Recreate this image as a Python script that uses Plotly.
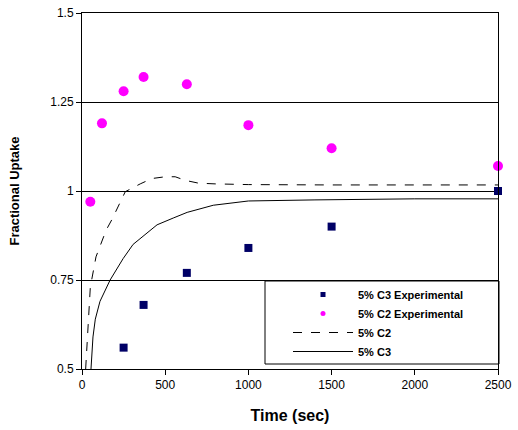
import plotly.graph_objects as go

# Experimental data
c3_exp_t = [250, 370, 630, 1000, 1500, 2500]
c3_exp_y = [0.56, 0.68, 0.77, 0.84, 0.90, 1.00]
c2_exp_t = [50, 120, 250, 370, 630, 1000, 1500, 2500]
c2_exp_y = [0.97, 1.19, 1.28, 1.32, 1.30, 1.185, 1.12, 1.07]

# Model curves
c2_mod_t = [22, 35, 50, 84, 145, 180, 220, 260, 350, 420, 500, 560, 620, 700, 800, 1000, 1500, 2000, 2500]
c2_mod_y = [0.50, 0.62, 0.73, 0.815, 0.89, 0.92, 0.96, 0.998, 1.02, 1.035, 1.04, 1.04, 1.03, 1.022, 1.02, 1.018, 1.017, 1.017, 1.017]
c3_mod_t = [54, 66, 80, 108, 169, 247, 307, 451, 548, 632, 789, 1000, 1400, 2000, 2500]
c3_mod_y = [0.50, 0.59, 0.64, 0.69, 0.75, 0.81, 0.85, 0.905, 0.924, 0.94, 0.96, 0.972, 0.975, 0.978, 0.978]

y_ticks = [0.5, 0.75, 1.0, 1.25, 1.5]
y_tick_labels = ["0.5", "0.75", "1", "1.25", "1.5"]
x_ticks = [0, 500, 1000, 1500, 2000, 2500]

NAVY = "#000066"
MAGENTA = "#FF00FF"

fig = go.Figure()
# data traces (legend handled by small-marker legend entries below)
fig.add_trace(go.Scatter(x=c3_exp_t, y=c3_exp_y, mode="markers", showlegend=False,
                         marker=dict(symbol="square", size=8, color=NAVY), cliponaxis=False))
fig.add_trace(go.Scatter(x=c2_exp_t, y=c2_exp_y, mode="markers", showlegend=False,
                         marker=dict(symbol="circle", size=10, color=MAGENTA), cliponaxis=False))
fig.add_trace(go.Scatter(x=c2_mod_t, y=c2_mod_y, mode="lines", showlegend=False,
                         line=dict(color="black", width=1, dash="dash")))
fig.add_trace(go.Scatter(x=c3_mod_t, y=c3_mod_y, mode="lines", showlegend=False,
                         line=dict(color="black", width=1)))

# legend entries
fig.add_trace(go.Scatter(x=[None], y=[None], mode="markers", name="5% C3 Experimental",
                         marker=dict(symbol="square", size=5, color=NAVY)))
fig.add_trace(go.Scatter(x=[None], y=[None], mode="markers", name="5% C2 Experimental",
                         marker=dict(symbol="circle", size=5, color=MAGENTA)))
fig.add_trace(go.Scatter(x=[None], y=[None], mode="lines", name="5% C2",
                         line=dict(color="black", width=1, dash="dash")))
fig.add_trace(go.Scatter(x=[None], y=[None], mode="lines", name="5% C3",
                         line=dict(color="black", width=1)))

W, H = 518, 430
L, R, T, B = 82, 498, 13, 369   # plot area in page pixels
def px_x(p):
    return (p - L) / (R - L)
def px_y(p):
    return (B - p) / (B - T)

fig.add_shape(type="rect", xref="paper", yref="paper",
              x0=px_x(265), x1=px_x(499), y0=px_y(364), y1=px_y(281),
              fillcolor="white", line=dict(color="black", width=1), layer="between")

fig.update_layout(
    template="none",
    width=W, height=H,
    margin=dict(l=L, r=W - R, t=T, b=H - B, pad=0),
    paper_bgcolor="white", plot_bgcolor="white",
    font=dict(family="Arial, Liberation Sans, sans-serif", color="black", size=12),
    showlegend=True,
    legend=dict(x=px_x(288), y=px_y(280), xanchor="left", yanchor="top",
                bgcolor="rgba(0,0,0,0)", borderwidth=0, itemwidth=60,
                font=dict(size=11, family="Arial, Liberation Sans, sans-serif", weight="bold"),
                tracegroupgap=0),
    xaxis=dict(range=[0, 2500], tickvals=x_ticks, showgrid=False, zeroline=False,
               showline=True, linecolor="black", linewidth=1, mirror=True,
               ticks="outside", ticklen=5, tickcolor="black", automargin=False,
               tickfont=dict(size=12),
               title=dict(text="<b>Time (sec)</b>", font=dict(size=16), standoff=18)),
    yaxis=dict(range=[0.5, 1.5], tickvals=y_ticks, ticktext=y_tick_labels,
               showgrid=True, gridcolor="black", gridwidth=1, zeroline=False,
               showline=True, linecolor="black", linewidth=1, mirror=True,
               ticks="outside", ticklen=5, tickcolor="black", automargin=False,
               tickfont=dict(size=12),
               title=dict(text="<b>Fractional Uptake</b>", font=dict(size=13), standoff=27)),
)

# remove the default page margin so the figure fills the window exactly
fig.write_html("out.html", config={"displayModeBar": False},
               post_script="document.body.style.margin='0';")
